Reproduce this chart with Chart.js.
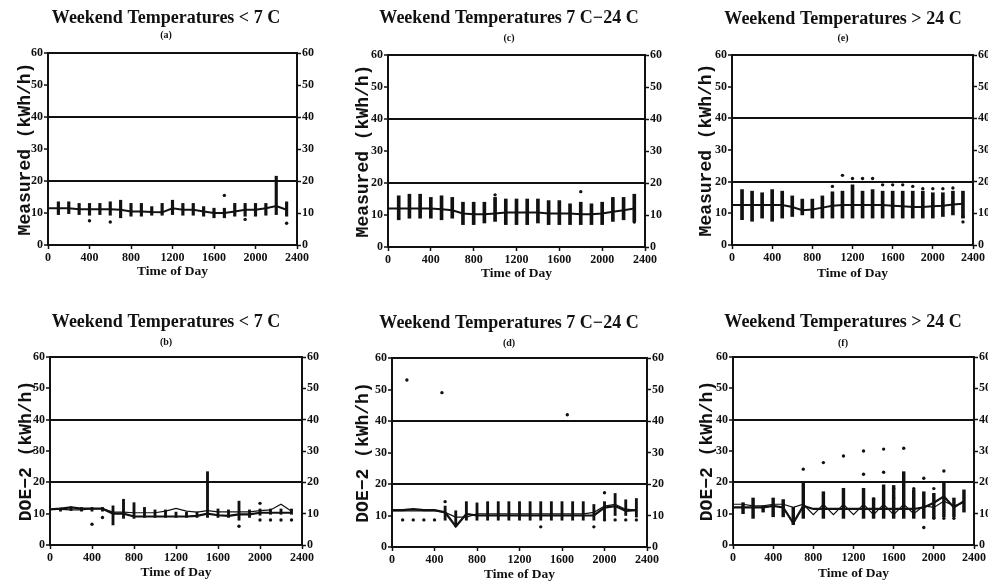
<!DOCTYPE html>
<html>
<head>
<meta charset="utf-8">
<script src="https://cdn.jsdelivr.net/npm/chart.js@4.4.1/dist/chart.umd.min.js"></script>
<style>
  body { margin: 0; background: #fff; width: 988px; height: 583px; position: relative; overflow: hidden; }
  canvas { position: absolute; }
</style>
</head>
<body>
<canvas id="pa"></canvas>
<canvas id="pc"></canvas>
<canvas id="pe"></canvas>
<canvas id="pb"></canvas>
<canvas id="pd"></canvas>
<canvas id="pf"></canvas>
<script>
// ---- data ----
const hours = [0,100,200,300,400,500,600,700,800,900,1000,1100,1200,1300,1400,1500,1600,1700,1800,1900,2000,2100,2200,2300];
const barHours = [100,200,300,400,500,600,700,800,900,1000,1100,1200,1300,1400,1500,1600,1700,1800,1900,2000,2100,2200,2300];

const titles = ['Weekend Temperatures < 7 C', 'Weekend Temperatures 7 C\u221224 C', 'Weekend Temperatures > 24 C'];
const subtitles = ['(a)', '(c)', '(e)', '(b)', '(d)', '(f)'];
const yTitles = ['Measured (kWh/h)', 'DOE\u22122 (kWh/h)'];

// (a) measured, < 7 C
const meanA = [11.5,11.5,11.5,11.2,11.2,11.2,11.2,11,10.5,10.5,10.3,10.2,11.5,11,11,10.5,10,10,10.5,11,11,11.5,12.2,11];
const lowA  = [9.5,9.8,9.5,9.3,9.5,9.3,8.5,9,9,9.3,9.3,9.5,9.3,9.3,9,8.5,8.5,9,9,9,9.3,9.5,9];
const highA = [13.5,13.5,13,13,13,13.5,14,13,13,12,13,14,13,13,12,11.5,11.5,13,13,13,13,21.5,13.5];
const dotXA = [400,600,1900,2300,1700];
const dotYA = [7.6,7.2,8,6.8,15.5];

// (c) measured, 7-24 C
const meanC = [12,12,12,12,12,11.8,11.5,10.5,10.2,10.2,10.5,10.8,10.8,10.8,10.8,10.5,10.5,10.5,10.2,10.2,10.5,11,11.5,12];
const lowC  = [8.5,9,9,9,8.5,9,7,7,7.5,8,7,7,7,7.5,7,7,7,7,7,7,8,8.5,8];
const highC = [16,16.5,16.5,15.5,16,15.5,14,14,14,15.5,15,15,15,15,14.5,14.5,13.5,14,13.5,14,15.5,15.5,16.5];
const dotXC = [2300,1800,1000];
const dotYC = [7.8,17.3,16.3];

// (e) measured, > 24 C
const meanE = [12.6,12.6,12.6,12.6,12.6,12.6,12,11,11.2,11.8,12.4,12.6,12.6,12.6,12.6,12.6,12.4,12.2,12,12,12.2,12.4,12.8,13];
const lowE  = [8,7.5,8.5,7.5,8.5,9,9.5,8.5,8.5,8.5,8.5,8.5,8.5,8.5,8.5,8.5,8.5,8.5,8.5,8.5,9,9.5,8.5];
const highE = [17.5,17,16.5,17.5,17,15.5,14.5,14.5,15.5,16.8,17,19,17,17.5,17,17,17,17,17,16.5,16.5,17,17];
const dotXE = [1000,1100,1200,1300,1400,1500,1600,1700,1800,1900,2000,2100,2200,2300,2300];
const dotYE = [18.5,22,21,21,21,19,19,19,18.5,17.8,17.8,17.8,18,7.3,9];

// (b) DOE-2, < 7 C
const simB  = [11.4,11.6,12,11.6,11.6,11.6,10,10,9.1,9.1,9.1,9.1,9.1,9.1,9.3,10,9.5,9.3,9.8,9.8,10.3,10.3,10.3,10.3];
const measB = [11.4,11.4,11.2,11.2,11.6,11.6,10.5,10.5,10.3,10.3,10.3,10.8,11.7,10.8,10.5,11,10.6,10.6,10.6,10.6,11,11.2,13,10.8];
const lowB  = [10.8,11,10.8,10.8,10.8,6.4,8.5,8.5,8.8,8.8,8.8,8.8,8.8,8.8,8.8,8.8,8.8,7.9,8.8,9.5,9.8,9.8,9.8];
const highB = [11.8,12.2,12,12,12,12.5,14.6,13.5,12,11.2,11.2,10.5,10.5,10.5,23.4,11.5,11.2,14,11.2,11.5,11.5,11.5,11.5];
const dotXB = [400,500,1800,2000,2000,2100,2200,2300];
const dotYB = [6.6,8.8,6,13.3,8,8,8,8];

// (d) DOE-2, 7-24 C
const simD  = [11.7,11.7,12,11.7,11.7,11,6.5,10.5,10,10,10,10,10,10,10,10,10,10,10,10,12.5,13,11.5,11.7];
const measD = [11.5,11.5,11.5,11.5,11.5,11,9.5,9.5,10.5,10.5,10.5,10.5,10.5,10.5,10.5,10.5,10.5,10.5,10.5,11,13,13.5,12,11.7];
const barHoursD = [500,600,700,800,900,1000,1100,1200,1300,1400,1500,1600,1700,1800,1900,2000,2100,2200,2300];
const lowD  = [8.5,6.5,8.5,8.5,8.5,8.5,8.5,8.5,8.5,8.5,8.5,8.5,8.5,8.5,8.5,9,10,10,9.5];
const highD = [13,11.5,14.4,14,14.4,14.4,14.4,14.4,14.4,14.4,14.4,14.4,14.4,14.4,13.5,14.4,17,15,15.4];
const dotXD = [100,200,300,400,2000,2100,2200,2300,500,1400,1900,2000,140,470,1650];
const dotYD = [8.6,8.6,8.6,8.6,8.6,8.6,8.6,8.6,14.4,6.4,6.4,17.2,53,49,42];

// (f) DOE-2, > 24 C
const simF  = [12,12,12,12,12.5,12,7,12.5,11.5,11.5,11.5,11.5,11.5,11.5,11.5,11.5,11.5,11.5,11.5,12,13.5,15.5,12,14];
const measF = [13,13,12.5,12.5,13,13,12,13,9.7,13,9.7,13,9.7,13,9.7,13,9.7,13,10,12.5,12,14,12.5,13.5];
const barHoursF = [100,200,300,400,500,600,700,900,1100,1300,1400,1500,1600,1700,1800,1900,2000,2100,2200,2300];
const lowF  = [10,8.5,10.5,9,9,6.5,8.5,8.5,8.5,8.5,8.5,8.5,8.5,8.5,8.5,8.5,8.5,9,9,10.5];
const highF = [13.5,15,12.5,15,14.5,12,20.2,17,18.1,18.1,15,19.2,19,23.4,17.6,17,16.5,19.7,15,17.6];
const dotXF = [700,900,1100,1300,1500,1700,1300,1500,1900,2100,1900,2000,2100,2200,1600,1600,1800,2000,1400];
const dotYF = [24.2,26.3,28.4,30,30.6,30.9,22.6,23.2,21.3,23.6,5.6,8.5,8.5,8.5,18,15,18,18,14.7];

// ---- drawing ----
const INK = '#111';
const TITLE_SIZE = 18, SUB_SIZE = 10, YT_SIZE = 18, XT_SIZE = 13.5;
const tickFont = { family: 'Liberation Serif', size: 12, weight: 'bold' };

function pts(xs, ys) {
  return xs.map((x, i) => ({ x: x, y: ys[i] }));
}

function panel(id, box, p) {
  const cv = document.getElementById(id);
  cv.width = box.w; cv.height = box.h;
  cv.style.left = box.x + 'px'; cv.style.top = box.y + 'px';

  // place title centre, plot area and axis titles where the scan has them
  const tc = box.titleCx - box.x;
  const padL = Math.max(0, 2 * tc - box.w), padR = Math.max(0, box.w - 2 * tc);
  const leftW = box.plotL - box.x - padL;
  const rightW = box.w - padR - (box.plotR - box.x);
  const xH = box.y + box.h - box.plotB;
  const tLH = TITLE_SIZE * 1.2, sLH = SUB_SIZE * 1.2, yLH = YT_SIZE * 1.2, xLH = XT_SIZE * 1.2;
  const tTop = box.titleY - box.y - tLH / 2;
  const sTop = box.subY - box.titleY - tLH / 2 - sLH / 2;
  const sBot = box.plotT - box.subY - sLH / 2;
  const yPad = box.yTitleX - box.x - padL - yLH / 2;
  const xPad = box.h - xLH / 2 - (box.xTitleY - box.y);

  const datasets = [];
  p.lines.forEach(l => datasets.push({
    type: 'line', data: pts(hours, l.y), borderColor: INK, borderWidth: l.w,
    pointRadius: 0, tension: 0, order: 1
  }));
  datasets.push({
    type: 'bar', data: p.barX.map((x, i) => ({ x: x, y: [p.lo[i], p.hi[i]] })),
    backgroundColor: INK, borderWidth: 0, barThickness: p.barW, order: 2
  });
  datasets.push({
    type: 'scatter', data: pts(p.dotX, p.dotY), backgroundColor: INK,
    borderWidth: 0, pointRadius: 1.7, order: 0
  });

  new Chart(cv, {
    type: 'line',
    data: { datasets: datasets },
    options: {
      responsive: false,
      animation: false,
      layout: { padding: { left: padL, right: padR, top: 0, bottom: 0 } },
      plugins: {
        legend: { display: false },
        tooltip: { enabled: false },
        title: {
          display: true, text: p.title, color: INK,
          font: { family: 'Liberation Serif', size: TITLE_SIZE, weight: 'bold' },
          padding: { top: tTop, bottom: 0 }
        },
        subtitle: {
          display: true, text: p.sub, color: INK,
          font: { family: 'Liberation Serif', size: SUB_SIZE, weight: 'bold' },
          padding: { top: sTop, bottom: sBot }
        }
      },
      scales: {
        x: {
          type: 'linear', min: 0, max: 2400, offset: false,
          ticks: { stepSize: 400, autoSkip: false, maxRotation: 0, color: INK, font: tickFont, padding: 2,
                   callback: v => String(v) },
          grid: { drawOnChartArea: false, offset: false, tickLength: 4, tickColor: INK, tickWidth: 1.5 },
          border: { color: INK, width: 2 },
          title: {
            display: true, text: 'Time of Day', color: INK,
            font: { family: 'Liberation Serif', size: XT_SIZE, weight: 'bold' },
            padding: { top: 0, bottom: xPad }
          },
          afterFit: s => { s.height = xH; }
        },
        y: {
          position: 'left', min: 0, max: 60,
          ticks: { stepSize: 10, color: INK, font: tickFont, padding: 1 },
          grid: {
            color: c => [20, 40, 60].includes(c.tick.value) ? INK : 'rgba(0,0,0,0)',
            lineWidth: 2, tickLength: 4, tickColor: INK, tickWidth: 1.5
          },
          border: { color: INK, width: 2 },
          title: {
            display: true, text: p.yTitle, color: INK,
            font: { family: 'Liberation Mono', size: YT_SIZE, weight: 'bold' },
            padding: { top: yPad, bottom: 0 }
          },
          afterFit: s => { s.width = leftW; }
        },
        y2: {
          position: 'right', min: 0, max: 60,
          ticks: { stepSize: 10, color: INK, font: tickFont, padding: 1 },
          grid: { drawOnChartArea: false, tickLength: 4, tickColor: INK, tickWidth: 1.5 },
          border: { color: INK, width: 2 },
          afterFit: s => { s.width = rightW; }
        }
      }
    }
  });
}

panel('pa', { x: 0, y: 0, w: 330, h: 283, plotL: 48, plotR: 297, plotT: 53, plotB: 245, titleCx: 166, titleY: 18, subY: 35, yTitleX: 25, xTitleY: 272 },
  { title: titles[0], sub: subtitles[0], yTitle: yTitles[0], lines: [{ y: meanA, w: 2 }], barX: barHours, lo: lowA, hi: highA, barW: 2.5, dotX: dotXA, dotY: dotYA });
panel('pc', { x: 330, y: 0, w: 340, h: 283, plotL: 388, plotR: 645, plotT: 55, plotB: 247, titleCx: 509, titleY: 18, subY: 38, yTitleX: 363, xTitleY: 274 },
  { title: titles[1], sub: subtitles[1], yTitle: yTitles[0], lines: [{ y: meanC, w: 2 }], barX: barHours, lo: lowC, hi: highC, barW: 3, dotX: dotXC, dotY: dotYC });
panel('pe', { x: 660, y: 0, w: 328, h: 283, plotL: 732, plotR: 973, plotT: 55, plotB: 245, titleCx: 843, titleY: 19, subY: 38, yTitleX: 706, xTitleY: 274 },
  { title: titles[2], sub: subtitles[2], yTitle: yTitles[0], lines: [{ y: meanE, w: 2 }], barX: barHours, lo: lowE, hi: highE, barW: 3, dotX: dotXE, dotY: dotYE });

panel('pb', { x: 0, y: 290, w: 330, h: 293, plotL: 50, plotR: 302, plotT: 357, plotB: 545, titleCx: 166, titleY: 322, subY: 342, yTitleX: 26, xTitleY: 573 },
  { title: titles[0], sub: subtitles[3], yTitle: yTitles[1], lines: [{ y: simB, w: 2.2 }, { y: measB, w: 1.2 }], barX: barHours, lo: lowB, hi: highB, barW: 2.2, dotX: dotXB, dotY: dotYB });
panel('pd', { x: 330, y: 290, w: 340, h: 293, plotL: 392, plotR: 647, plotT: 358, plotB: 547, titleCx: 509, titleY: 323, subY: 343, yTitleX: 363, xTitleY: 575 },
  { title: titles[1], sub: subtitles[4], yTitle: yTitles[1], lines: [{ y: simD, w: 2.2 }, { y: measD, w: 1.2 }], barX: barHoursD, lo: lowD, hi: highD, barW: 2.2, dotX: dotXD, dotY: dotYD });
panel('pf', { x: 660, y: 290, w: 328, h: 293, plotL: 733, plotR: 974, plotT: 357, plotB: 545, titleCx: 843, titleY: 322, subY: 343, yTitleX: 707, xTitleY: 574 },
  { title: titles[2], sub: subtitles[5], yTitle: yTitles[1], lines: [{ y: simF, w: 2.2 }, { y: measF, w: 1.2 }], barX: barHoursF, lo: lowF, hi: highF, barW: 2.8, dotX: dotXF, dotY: dotYF });
</script>
</body>
</html>
